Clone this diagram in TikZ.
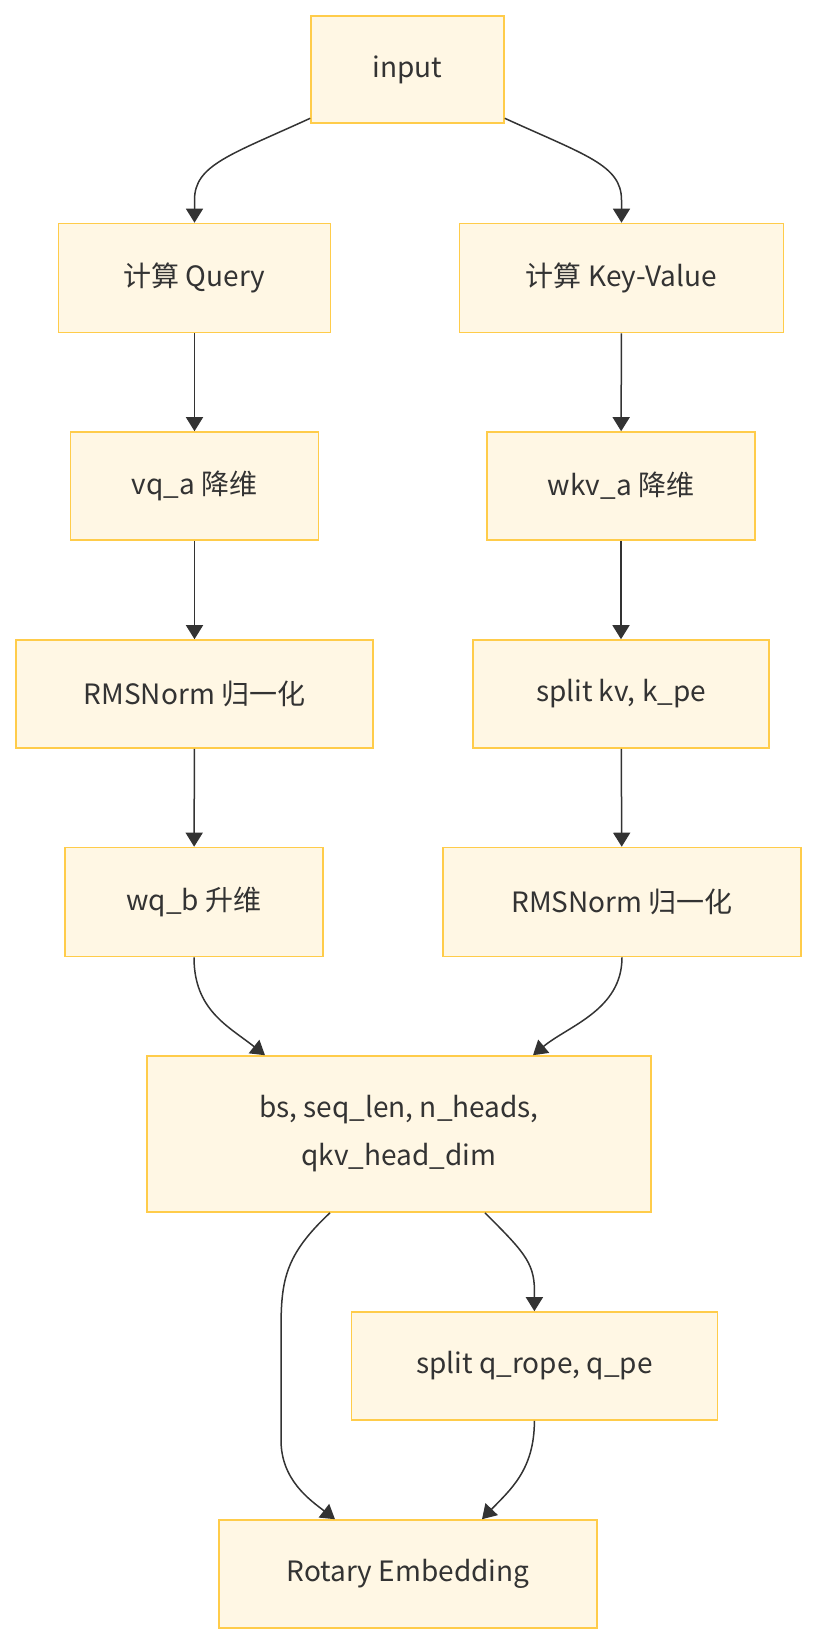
\documentclass[tikz,border=0pt]{standalone}
\usepackage{fontspec}
\setmainfont{Noto Sans CJK SC}
\usetikzlibrary{positioning,arrows.meta}

\definecolor{boxfill}{HTML}{FFF7E4}
\definecolor{boxline}{HTML}{FFCC4A}
\definecolor{ink}{HTML}{333333}

\tikzset{
  blk/.style={draw=boxline, fill=boxfill, line width=1.6pt, text=ink,
    font=\fontsize{28}{48}\selectfont, align=center, inner sep=0pt},
  arr/.style={-{Triangle[length=14pt,width=17pt]}, draw=ink, line width=1.5pt}
}

\begin{document}
\begin{tikzpicture}[x=1pt, y=-1pt]
\useasboundingbox (0,0) rectangle (816,1644);

        % boxes
        \node[blk, minimum width=193pt, minimum height=107pt] (input) at (407.5,69.5) {input};
        \node[blk, minimum width=272pt, minimum height=109pt] (query) at (194.5,278) {计算 Query};
        \node[blk, minimum width=324pt, minimum height=109pt] (kv) at (621.5,278) {计算 Key-Value};
        \node[blk, minimum width=248pt, minimum height=108pt] (vqa) at (194.5,486) {vq\_a 降维};
        \node[blk, minimum width=268pt, minimum height=108pt] (wkva) at (621,486) {wkv\_a 降维};
        \node[blk, minimum width=357pt, minimum height=108pt] (qnorm) at (194.5,694) {RMSNorm 归一化};
        \node[blk, minimum width=296pt, minimum height=108pt] (splitkv) at (621,694) {split kv, k\_pe};
        \node[blk, minimum width=258pt, minimum height=109pt] (wqb) at (194,902) {wq\_b 升维};
        \node[blk, minimum width=358pt, minimum height=109pt] (kvnorm) at (622,902) {RMSNorm 归一化};
        \node[blk, minimum width=504pt, minimum height=156pt] (shape) at (399,1134) {bs, seq\_len, n\_heads,\\qkv\_head\_dim};
        \node[blk, minimum width=366pt, minimum height=108pt] (splitq) at (534.4,1366) {split q\_rope, q\_pe};
        \node[blk, minimum width=378pt, minimum height=108pt] (rope) at (408,1574) {Rotary Embedding};

        % fan out from input
        \draw[arr] ([yshift=5.5pt]input.south west) .. controls (230,155) and (194.5,165) .. (194.5,200) -- (query.north);
        \draw[arr] ([yshift=5.5pt]input.south east) .. controls (585,155) and (621.5,165) .. (621.5,200) -- (kv.north);

        % two straight columns
        \draw[arr] (query) -- (vqa);
        \draw[arr] (vqa) -- (qnorm);
        \draw[arr] (qnorm) -- (wqb);
        \draw[arr] (kv) -- (wkva);
        \draw[arr] (wkva) -- (splitkv);
        \draw[arr] (splitkv) -- (kvnorm);

        % merge
        \draw[arr] (wqb.south) .. controls (194,1010) and (228,1026) .. ([xshift=-134pt]shape.north);
        \draw[arr] (kvnorm.south) .. controls (622,1010) and (568,1026) .. ([xshift=134pt]shape.north);

        % rope branch
        \draw[arr] ([xshift=-69pt]shape.south) .. controls (285,1255) and (281,1280) .. (281,1330)
            -- (281,1440) .. controls (281,1480) and (310,1500) .. ([xshift=-73pt]rope.north);
        \draw[arr] ([xshift=86pt]shape.south) .. controls (522,1250) and (534.4,1262) .. (534.4,1290) -- (splitq.north);
        \draw[arr] (splitq.south) .. controls (534.4,1470) and (510,1490) .. ([xshift=74pt]rope.north);

\end{tikzpicture}
\end{document}
